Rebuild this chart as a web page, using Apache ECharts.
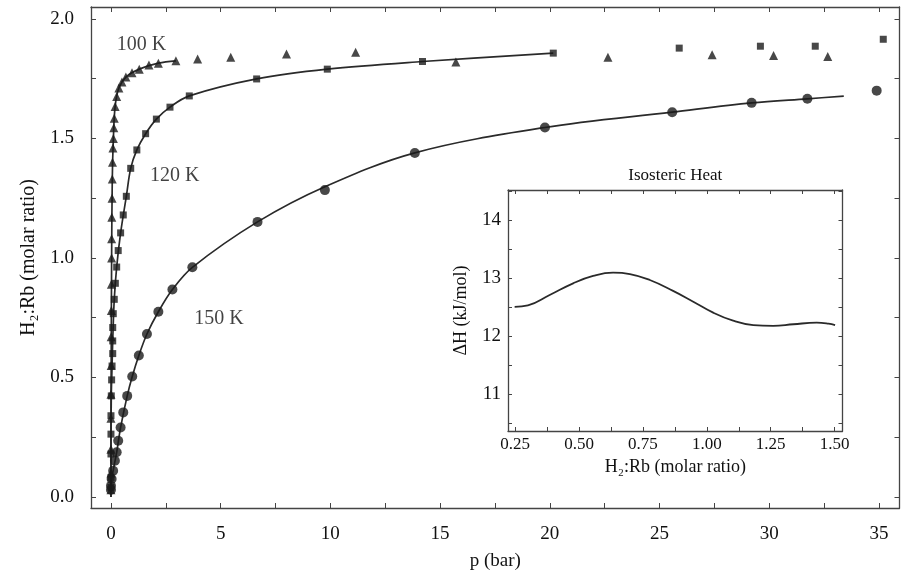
<!DOCTYPE html>
<html><head><meta charset="utf-8">
<script src="https://cdn.jsdelivr.net/npm/echarts@6/dist/echarts.min.js"></script>
<style>html,body{margin:0;padding:0;background:#fff}#c{width:907px;height:576px}</style>
</head><body><div id="c"></div>
<script>
// ---- data (p in bar, H2:Rb molar ratio) ----
const k100Markers = [[0,0.03],[0,0.10],[0,0.20],[0,0.33],[0,0.43],[0.01,0.55],[0.01,0.67],[0.02,0.78],[0.02,0.89],[0.03,1.00],[0.03,1.08],[0.04,1.17],[0.05,1.25],[0.06,1.33],[0.07,1.40],[0.09,1.46],[0.11,1.50],[0.13,1.545],[0.15,1.585],[0.19,1.634],[0.26,1.676],[0.36,1.711],[0.5,1.736],[0.68,1.757],[0.96,1.775],[1.29,1.79],[1.73,1.807],[2.16,1.815],[2.96,1.825],[3.95,1.832],[5.46,1.84],[8.0,1.853],[11.15,1.861],[15.72,1.82],[22.65,1.84],[27.4,1.85],[30.2,1.847],[32.67,1.843]];
const k100Fit = [[0,0.0],[0,0.2],[0.01,0.55],[0.03,1.0],[0.06,1.33],[0.11,1.50],[0.19,1.634],[0.36,1.711],[0.68,1.757],[1.29,1.79],[2.16,1.815],[2.96,1.825]];

const k120Markers = [[0,0.04],[0,0.082],[0,0.18],[0,0.263],[0,0.34],[0.015,0.423],[0.03,0.49],[0.05,0.548],[0.08,0.60],[0.08,0.653],[0.08,0.709],[0.105,0.767],[0.15,0.827],[0.2,0.894],[0.26,0.962],[0.33,1.031],[0.44,1.105],[0.56,1.18],[0.7,1.258],[0.9,1.375],[1.18,1.452],[1.58,1.52],[2.07,1.581],[2.69,1.631],[3.57,1.678],[6.64,1.749],[9.86,1.79],[14.2,1.822],[20.16,1.857],[25.9,1.878],[29.6,1.886],[32.1,1.886],[35.2,1.915]];
const k120Fit = [[0,0.02],[0,0.18],[0.015,0.423],[0.05,0.548],[0.08,0.653],[0.15,0.827],[0.26,0.962],[0.44,1.105],[0.7,1.258],[0.9,1.375],[1.18,1.452],[1.58,1.52],[2.07,1.581],[2.69,1.631],[3.57,1.678],[6.64,1.749],[9.86,1.79],[14.2,1.822],[20.16,1.857]];

const k150Markers = [[0,0.03],[0,0.047],[0.03,0.075],[0.1,0.11],[0.18,0.152],[0.26,0.187],[0.33,0.235],[0.44,0.291],[0.56,0.354],[0.74,0.423],[0.97,0.504],[1.27,0.592],[1.64,0.682],[2.16,0.775],[2.8,0.868],[3.71,0.961],[6.68,1.151],[9.75,1.284],[13.85,1.439],[19.78,1.546],[25.58,1.61],[29.2,1.649],[31.74,1.666],[34.9,1.70]];
const k150Fit = [[0,0.0],[0,0.047],[0.1,0.11],[0.26,0.187],[0.44,0.291],[0.74,0.423],[0.97,0.504],[1.27,0.592],[1.64,0.682],[2.16,0.775],[2.8,0.868],[3.71,0.961],[6.68,1.151],[9.75,1.298],[13.85,1.44],[19.78,1.546],[25.58,1.61],[29.2,1.649],[31.74,1.666],[33.4,1.677]];

const curveLabels = [["100 K",0.26,1.894],["120 K",1.78,1.344],["150 K",3.8,0.747]];

// inset: isosteric heat (H2:Rb ratio, kJ/mol)
const heatCurve = [[0.248,12.505],[0.3,12.53],[0.385,12.709],[0.477,12.91],[0.555,13.036],[0.633,13.093],[0.699,13.07],[0.777,12.967],[0.868,12.78],[0.947,12.594],[1.025,12.405],[1.103,12.267],[1.182,12.19],[1.26,12.176],[1.339,12.205],[1.43,12.232],[1.476,12.215],[1.502,12.19]];

// ticks
const mainXLabels = [0,5,10,15,20,25,30,35];
const mainXTicks = [0,2.5,5,7.5,10,12.5,15,17.5,20,22.5,25,27.5,30,32.5,35];
const mainYLabels = [0,0.5,1.0,1.5,2.0];
const mainYTicks = [0,0.25,0.5,0.75,1.0,1.25,1.5,1.75,2.0];
const insetXLabels = [0.25,0.5,0.75,1.0,1.25,1.5];
const insetXTicks = [0.25,0.375,0.5,0.625,0.75,0.875,1.0,1.125,1.25,1.375,1.5];
const insetYLabels = [11,12,13,14];
const insetYTicks = [10.5,11,11.5,12,12.5,13,13.5,14,14.5];

const FONT = '"Liberation Serif","Times New Roman",serif';
const INK = '#111';
const MARK = '#1a1a1a';
const AX = '#444';

function axisBase(extra){
  return Object.assign({
    type:'value',
    axisLine:{show:true,onZero:false,lineStyle:{color:AX,width:1.3}},
    splitLine:{show:false},
    axisTick:{show:true,inside:true,length:5,lineStyle:{color:AX,width:1}},
    axisLabel:{show:false},
  }, extra);
}

const chart = echarts.init(document.getElementById('c'), null, {renderer:'canvas'});
const option = {
  animation:false,
  backgroundColor:'#fff',
  grid:[
    {left:91, top:7, right:7.5, bottom:67},
    {left:508, top:190, width:334.5, height:241}
  ],
  xAxis:[
    axisBase({gridIndex:0, position:'bottom', min:-0.91, max:35.94,
      axisTick:{show:true,inside:true,length:5,customValues:mainXTicks,lineStyle:{color:AX,width:1}},
      axisLabel:{show:true,customValues:mainXLabels,margin:17,color:INK,fontFamily:FONT,fontSize:19},
      name:'p (bar)', nameLocation:'middle', nameGap:44,
      nameTextStyle:{color:INK,fontFamily:FONT,fontSize:19}}),
    axisBase({gridIndex:0, position:'top', min:-0.91, max:35.94,
      axisTick:{show:true,inside:true,length:5,customValues:mainXTicks,lineStyle:{color:AX,width:1}}}),
    axisBase({gridIndex:1, position:'bottom', min:0.222, max:1.531,
      axisTick:{show:true,inside:true,length:4,customValues:insetXTicks,lineStyle:{color:AX,width:1}},
      axisLabel:{show:true,customValues:insetXLabels,margin:5,color:INK,fontFamily:FONT,fontSize:17,
        formatter:v=>v.toFixed(2)},
      name:'H\u2082:Rb (molar ratio)', nameLocation:'middle', nameGap:27,
      nameTextStyle:{color:INK,fontFamily:FONT,fontSize:18}}),
    axisBase({gridIndex:1, position:'top', min:0.222, max:1.531,
      axisTick:{show:true,inside:true,length:4,customValues:insetXTicks,lineStyle:{color:AX,width:1}},
      name:'Isosteric Heat', nameLocation:'middle', nameGap:6,
      nameTextStyle:{color:INK,fontFamily:FONT,fontSize:17}})
  ],
  yAxis:[
    axisBase({gridIndex:0, position:'left', min:-0.046, max:2.05,
      axisTick:{show:true,inside:true,length:5,customValues:mainYTicks,lineStyle:{color:AX,width:1}},
      axisLabel:{show:true,customValues:mainYLabels,margin:17,color:INK,fontFamily:FONT,fontSize:19,
        formatter:v=>v.toFixed(1)},
      name:'H\u2082:Rb (molar ratio)', nameLocation:'middle', nameGap:52,
      nameTextStyle:{color:INK,fontFamily:FONT,fontSize:20}}),
    axisBase({gridIndex:0, position:'right', min:-0.046, max:2.05,
      axisTick:{show:true,inside:true,length:5,customValues:mainYTicks,lineStyle:{color:AX,width:1}}}),
    axisBase({gridIndex:1, position:'left', min:10.368, max:14.516,
      axisTick:{show:true,inside:true,length:4,customValues:insetYTicks,lineStyle:{color:AX,width:1}},
      axisLabel:{show:true,customValues:insetYLabels,margin:7,color:INK,fontFamily:FONT,fontSize:19},
      name:'\u0394H (kJ/mol)', nameLocation:'middle', nameGap:38,
      nameTextStyle:{color:INK,fontFamily:FONT,fontSize:18}}),
    axisBase({gridIndex:1, position:'right', min:10.368, max:14.516,
      axisTick:{show:true,inside:true,length:4,customValues:insetYTicks,lineStyle:{color:AX,width:1}}})
  ],
  series:[
    {type:'line', xAxisIndex:0, yAxisIndex:0, data:k100Fit, smooth:0.35, showSymbol:false, symbol:'none',
      lineStyle:{color:'#2a2a2a',width:1.7}, silent:true, z:2},
    {type:'line', xAxisIndex:0, yAxisIndex:0, data:k120Fit, smooth:0.35, showSymbol:false, symbol:'none',
      lineStyle:{color:'#2a2a2a',width:1.7}, silent:true, z:2},
    {type:'line', xAxisIndex:0, yAxisIndex:0, data:k150Fit, smooth:0.35, showSymbol:false, symbol:'none',
      lineStyle:{color:'#2a2a2a',width:1.7}, silent:true, z:2},
    {type:'scatter', xAxisIndex:0, yAxisIndex:0, data:k100Markers, symbol:'triangle', symbolSize:9,
      itemStyle:{color:MARK}, z:3},
    {type:'scatter', xAxisIndex:0, yAxisIndex:0, data:k120Markers, symbol:'rect', symbolSize:7,
      itemStyle:{color:MARK}, z:3},
    {type:'scatter', xAxisIndex:0, yAxisIndex:0, data:k150Markers, symbol:'circle', symbolSize:10,
      itemStyle:{color:MARK}, z:3},
    {type:'scatter', xAxisIndex:0, yAxisIndex:0, symbolSize:0, silent:true, z:4,
      data:curveLabels.map(d=>({name:d[0], value:[d[1],d[2]]})),
      label:{show:true, position:[0,0], align:'left', verticalAlign:'middle', formatter:'{b}',
        color:INK, fontFamily:FONT, fontSize:20}},
    {type:'line', xAxisIndex:2, yAxisIndex:2, data:heatCurve, smooth:0.45, showSymbol:false, symbol:'none',
      lineStyle:{color:'#2a2a2a',width:1.8}, silent:true}
  ]
};
chart.setOption(option);
</script>
</body></html>
